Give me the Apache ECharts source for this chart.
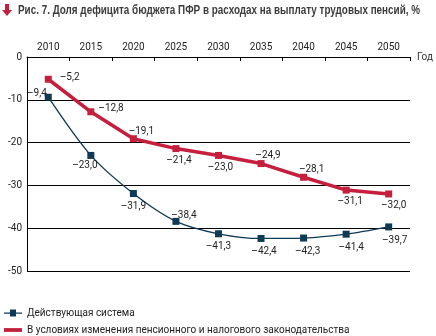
<!DOCTYPE html>
<html>
<head>
<meta charset="utf-8">
<script src="https://cdn.jsdelivr.net/npm/echarts@6/dist/echarts.min.js"></script>
<style>
  html, body { margin: 0; padding: 0; background: #fff; }
  #chart { width: 436px; height: 336px; }
</style>
</head>
<body>
<div id="chart"></div>
<script>
// Years along the top axis
var years = ['2010', '2015', '2020', '2025', '2030', '2035', '2040', '2045', '2050'];
// Deficit share, % — current system
var currentSystem = [-9.4, -23.0, -31.9, -38.4, -41.3, -42.4, -42.3, -41.4, -39.7];
// Deficit share, % — with pension and tax legislation changes
var reformScenario = [-5.2, -12.8, -19.1, -21.4, -23.0, -24.9, -28.1, -31.1, -32.0];
var seriesNames = ['Действующая система', 'В условиях изменения пенсионного и налогового законодательства'];
var titleText = 'Рис. 7. Доля дефицита бюджета ПФР в расходах на выплату трудовых пенсий, %';

// Where each value label sits relative to its point, plus a small nudge in px
var currentLabelPos = ['left', 'bottom', 'bottom', 'top', 'bottom', 'bottom', 'bottom', 'bottom', 'bottom'];
var currentNudge = [[6, -4], [-6, -2], [0, 0], [8, 7], [0, 0], [3, 1], [4, 1], [5, 1], [6, 1]];
var reformLabelPos = ['right', 'right', 'top', 'bottom', 'bottom', 'top', 'top', 'bottom', 'bottom'];
var reformNudge = [[4, -2], [0, -3], [8, 5], [3, -1], [2, 0], [7, 4], [8, 5], [4, -1], [5, -1]];

var FONT = 'Roboto, "Liberation Sans", sans-serif';
var BLUE = '#0f3a56';
var RED = '#c61f3d';

function fmt(v) {
  return v.toFixed(1).replace('.', ',').replace('-', '–');
}

function withLabels(values, positions, nudges) {
  return values.map(function (v, i) {
    return { value: v, label: { position: positions[i], offset: nudges[i] || [0, 0] } };
  });
}

var chart = echarts.init(document.getElementById('chart'), null, { renderer: 'canvas' });

chart.setOption({
  animation: false,
  textStyle: { fontFamily: FONT },
  color: [BLUE, RED],
  graphic: [
    {
      type: 'polygon',
      shape: { points: [[5, 4], [9, 4], [9, 10], [12, 10], [7, 16], [2, 10], [5, 10]] },
      style: { fill: RED }
    },
    {
      type: 'text',
      left: 18,
      top: 4,
      scaleX: 0.76,
      originX: 0,
      style: {
        text: titleText,
        font: 'bold 13px "Liberation Sans", sans-serif',
        fill: '#3c3c3c'
      }
    }
  ],
  legend: [
    {
      left: 4,
      top: 308,
      padding: 0,
      itemWidth: 18,
      itemHeight: 7,
      textStyle: { fontFamily: FONT, fontSize: 10, color: '#222' },
      data: [{ name: seriesNames[0], icon: 'path://M0,3H18V4.2H0Z M6,0H12V7H6Z' }]
    },
    {
      left: 4,
      top: 325,
      padding: 0,
      itemWidth: 18,
      itemHeight: 7,
      textStyle: { fontFamily: FONT, fontSize: 10, color: '#222' },
      data: [{ name: seriesNames[1], icon: 'path://M0,1.7H18V5.5H0Z' }]
    }
  ],
  grid: { left: 27, right: 24, top: 57, bottom: 65, containLabel: false },
  xAxis: {
    type: 'category',
    position: 'top',
    data: years,
    boundaryGap: true,
    name: 'Год',
    nameLocation: 'end',
    nameGap: 7,
    nameTextStyle: { fontFamily: FONT, fontSize: 10, color: '#333' },
    axisLine: { show: true, lineStyle: { color: '#000', width: 1 } },
    axisTick: { show: true, inside: true, length: 4, lineStyle: { color: '#000' } },
    axisLabel: { margin: 5, fontSize: 10, color: '#222', fontFamily: FONT },
    splitLine: { show: false }
  },
  yAxis: {
    type: 'value',
    min: -50,
    max: 0,
    interval: 10,
    axisLine: { show: true, lineStyle: { color: '#000', width: 1 } },
    axisTick: { show: false },
    axisLabel: { margin: 5, fontSize: 10, color: '#222', fontFamily: FONT },
    splitLine: { show: true, lineStyle: { color: '#000', width: 1 } }
  },
  series: [
    {
      name: seriesNames[0],
      type: 'line',
      smooth: 0.3,
      data: withLabels(currentSystem, currentLabelPos, currentNudge),
      symbol: 'rect',
      symbolSize: 7,
      lineStyle: { color: BLUE, width: 1.3 },
      itemStyle: { color: BLUE },
      label: { show: true, distance: 4, fontSize: 10, color: '#222', fontFamily: FONT,
        formatter: function (p) { return fmt(p.value); } },
      z: 2
    },
    {
      name: seriesNames[1],
      type: 'line',
      data: withLabels(reformScenario, reformLabelPos, reformNudge),
      symbol: 'rect',
      symbolSize: 7,
      lineStyle: { color: RED, width: 3.5 },
      itemStyle: { color: RED },
      label: { show: true, distance: 4, fontSize: 10, color: '#222', fontFamily: FONT,
        formatter: function (p) { return fmt(p.value); } },
      z: 3
    }
  ]
});
</script>
</body>
</html>
